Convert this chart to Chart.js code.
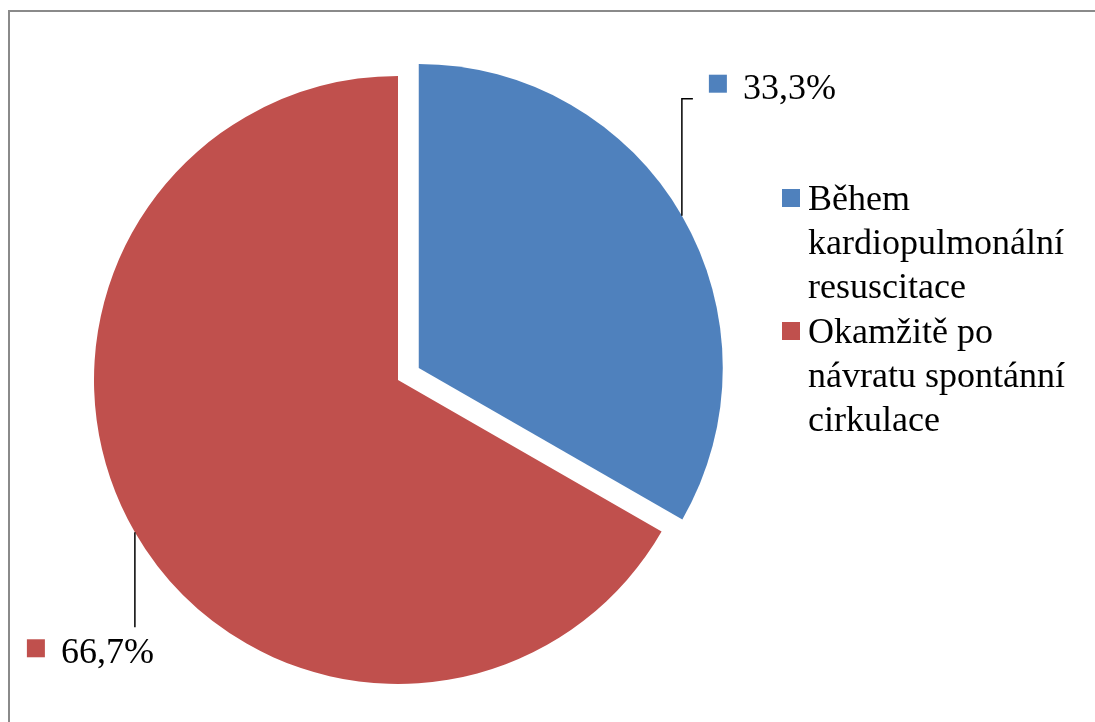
<!DOCTYPE html>
<html>
<head>
<meta charset="utf-8">
<script src="https://cdn.jsdelivr.net/npm/chart.js@4"></script>
<style>
  html, body { margin: 0; padding: 0; background: #ffffff; }
  #wrap { position: relative; width: 1095px; height: 722px; }
  canvas { display: block; }
</style>
</head>
<body>
<div id="wrap"><canvas id="c" width="1095" height="722"></canvas></div>
<script>
// Timing of the procedure (share of cases)
const categories = [
  'Během kardiopulmonální resuscitace',
  'Okamžitě po návratu spontánní cirkulace'
];
const shares = [33.3, 66.7];
const valueLabels = ['33,3%', '66,7%'];
const sliceColors = ['#4F81BD', '#C0504D'];
// how far each slice is pulled out, in pixels
const slicePull = [24, 0];

const FONT = '36px "Liberation Serif", "Times New Roman", serif';

// Thin grey frame around the chart area
const framePlugin = {
  id: 'frame',
  beforeDraw(chart) {
    const ctx = chart.ctx;
    ctx.save();
    ctx.strokeStyle = '#8a8a8a';
    ctx.lineWidth = 2;
    ctx.beginPath();
    ctx.moveTo(9, 722);
    ctx.lineTo(9, 11);
    ctx.lineTo(1095, 11);
    ctx.stroke();
    ctx.restore();
  }
};

// Draws each arc shifted outward along its bisector (an exploded pie)
// without the radius growth that the built-in offset option adds.
const explodePlugin = {
  id: 'explode',
  beforeDatasetDraw(chart, args) {
    const ctx = chart.ctx;
    const arcs = args.meta.data;
    arcs.forEach((arc, i) => {
      const p = arc.getProps(['startAngle', 'endAngle'], true);
      const mid = (p.startAngle + p.endAngle) / 2;
      const d = slicePull[i] || 0;
      ctx.save();
      ctx.translate(d * Math.cos(mid), d * Math.sin(mid));
      arc.draw(ctx, chart.chartArea);
      ctx.restore();
    });
    return false;
  }
};

// Percentage labels with elbow leader lines
const leaderLabels = {
  id: 'leaderLabels',
  afterDatasetsDraw(chart) {
    const ctx = chart.ctx;
    const arcs = chart.getDatasetMeta(0).data;
    ctx.save();
    ctx.font = FONT;
    ctx.textBaseline = 'alphabetic';
    arcs.forEach((arc, i) => {
      const p = arc.getProps(['x', 'y', 'startAngle', 'endAngle', 'outerRadius'], true);
      const mid = (p.startAngle + p.endAngle) / 2;
      const off = slicePull[i];
      const ex = p.x + (p.outerRadius + off) * Math.cos(mid);
      const ey = p.y + (p.outerRadius + off) * Math.sin(mid);
      ctx.strokeStyle = '#000000';
      ctx.lineWidth = 1.5;
      ctx.beginPath();
      let sx, ty;
      if (Math.sin(mid) < 0) {
        // label above-right of the slice
        const ly = ey - 117;
        ctx.moveTo(ex, ey);
        ctx.lineTo(ex, ly);
        ctx.lineTo(ex + 11, ly);
        ctx.stroke();
        sx = ex + 27;
        ty = ly;
      } else {
        // label below the slice
        const ly = ey + 95;
        ctx.moveTo(ex, ey);
        ctx.lineTo(ex, ly);
        ctx.stroke();
        sx = ex - 108;
        ty = ly + 36;
      }
      ctx.fillStyle = sliceColors[i];
      ctx.fillRect(sx, ty - 24, 18, 18);
      ctx.fillStyle = '#000000';
      ctx.fillText(valueLabels[i], sx + 34, ty);
    });
    ctx.restore();
  }
};

// Right-hand legend with wrapped category names
const sideLegend = {
  id: 'sideLegend',
  afterDraw(chart) {
    const ctx = chart.ctx;
    const labels = chart.data.labels;
    const maxW = 275;
    const lineH = 44;
    const boxX = 782, textX = 808;
    let y = 210;
    ctx.save();
    ctx.font = FONT;
    ctx.textBaseline = 'alphabetic';
    labels.forEach((lab, i) => {
      const words = lab.split(' ');
      const lines = [];
      let cur = '';
      words.forEach(w => {
        const test = cur ? cur + ' ' + w : w;
        if (cur && ctx.measureText(test).width > maxW) {
          lines.push(cur);
          cur = w;
        } else {
          cur = test;
        }
      });
      if (cur) lines.push(cur);
      ctx.fillStyle = sliceColors[i];
      ctx.fillRect(boxX, y - 21, 18, 18);
      ctx.fillStyle = '#000000';
      lines.forEach((ln, k) => ctx.fillText(ln, textX, y + k * lineH));
      y += lines.length * lineH + 1;
    });
    ctx.restore();
  }
};

new Chart(document.getElementById('c'), {
  type: 'pie',
  data: {
    labels: categories,
    datasets: [{
      data: shares,
      backgroundColor: sliceColors,
      borderWidth: 0,
      hoverOffset: 0
    }]
  },
  options: {
    responsive: false,
    animation: false,
    events: [],
    radius: 304,
    layout: { padding: { left: 0, right: 299, top: 38, bottom: 0 } },
    plugins: {
      legend: { display: false },
      tooltip: { enabled: false },
      title: { display: false }
    }
  },
  plugins: [framePlugin, explodePlugin, leaderLabels, sideLegend]
});
</script>
</body>
</html>
